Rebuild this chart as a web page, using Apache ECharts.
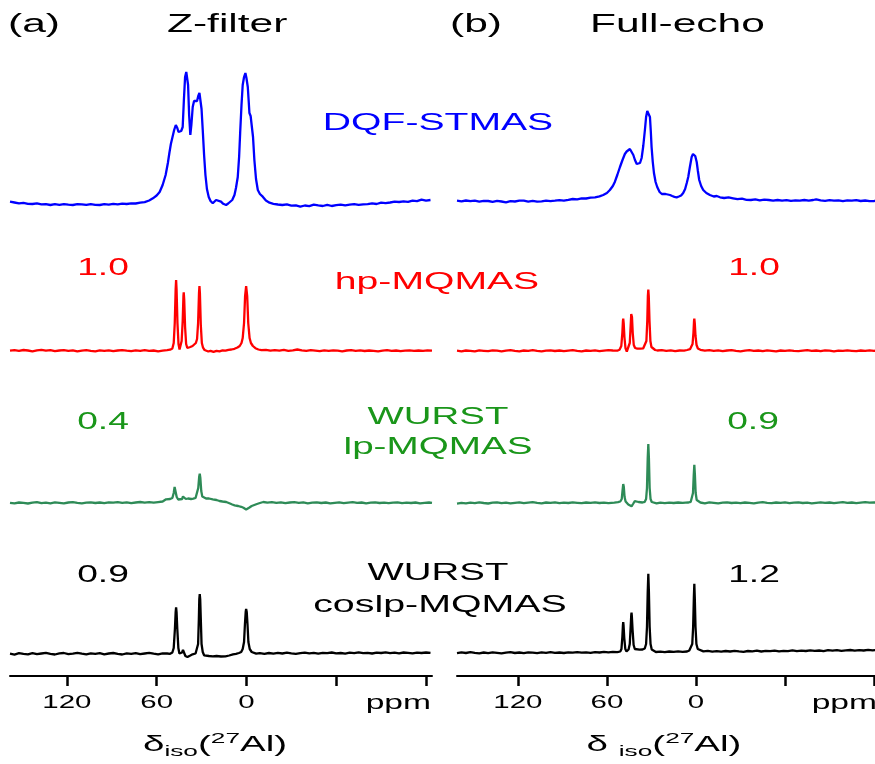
<!DOCTYPE html>
<html>
<head>
<meta charset="utf-8">
<script src="https://cdn.jsdelivr.net/npm/echarts@6/dist/echarts.min.js"></script>
<style>
html, body { margin: 0; padding: 0; background: #fff; }
#chart { width: 875px; height: 764px; }
</style>
</head>
<body>
<div id="chart"></div>
<script>
// spectra as [ppm, intensity (a.u.)]
// (a) Z-filter
var zDqf = [[158,3.3],[155,2.5],[152,1.7],[149,2.2],[146,1.2],[143,1.0],[140,1.6],[137,0.6],[134,0.9],[131,0.0],[128,0.8],[125,0.2],[122,0.9],[119,0.3],[116,0.0],[113,0.8],[110,0.7],[107,0.1],[104,0.9],[101,0.2],[98,0.0],[95,0.9],[92,0.4],[89,1.2],[86,0.7],[83,1.4],[80,1.0],[77,1.6],[74,1.5],[71,2.3],[68,2.9],[65,4.5],[62.5,6.7],[60,9.5],[58,13],[56,20],[54,30],[52.5,42],[51.5,52],[50.5,61],[49.4,68],[48.3,75],[47.2,80],[46.2,77],[45.4,73],[44.5,72],[43.6,74],[42.6,78],[41.8,105],[41.0,128],[40.2,133],[39.6,133],[39.0,120],[38.3,90],[37.5,70],[36.8,80],[35.9,98],[35.0,104],[34.0,105],[33.0,104],[32.2,109],[31.4,112],[30.7,110],[30.0,96],[29.2,75],[28.3,50],[27.4,30],[26.4,16],[25.2,8],[24,4],[22.5,1.7],[21.3,3.5],[20.3,5],[19,4.5],[17,3.3],[15.5,1.2],[13.6,0],[12.2,1.5],[10.9,2.7],[9.5,5],[8,10],[7,17],[5.8,28],[4.9,48],[4.2,72],[3.3,100],[2.5,120],[1.6,128],[0.7,132],[0,127],[-0.9,118],[-1.5,104],[-2,92],[-2.8,89],[-3.6,87],[-4.4,68],[-5.3,45],[-6.4,26],[-7.6,15],[-9,11],[-10.9,8.3],[-13,4.5],[-15.4,2.3],[-18,1.2],[-21,0.5],[-24,0],[-27,0.7],[-30,-0.6],[-33,-0.4],[-36,-1.7],[-39,-0.5],[-42,-1.1],[-45,0.3],[-48,-0.4],[-51,-1.0],[-54,0.2],[-57,-1.0],[-60,-0.2],[-63,0.4],[-66,-0.3],[-69,0.3],[-72,0.9],[-75,0.1],[-78,0.7],[-81,0.8],[-84,1.6],[-87,1.0],[-90,2.3],[-93,1.9],[-96,2.5],[-99,3.4],[-102,3],[-105,3.6],[-108,3.1],[-111,4.3],[-114,3.9],[-117,5.4],[-120,4.4],[-123,5]];
var zHp = [[158,0.4],[155,0.9],[152,0.2],[149,1.0],[146,0.5],[143,-0.3],[140,0.6],[137,1.1],[134,0.3],[131,0.8],[128,-0.2],[125,0.5],[122,0.9],[119,0.1],[116,0.7],[113,-0.4],[110,0.4],[107,0.8],[104,0.2],[101,-0.3],[98,0.6],[95,0.1],[92,0.7],[89,-0.2],[86,0.5],[83,0.9],[80,0.3],[77,-0.2],[74,0.6],[71,0.2],[68,0.8],[65,0.1],[62,0.5],[59,-0.3],[56,0.4],[53,0.9],[51,1.3],[49.5,2.5],[48.6,8],[47.9,28],[47.3,62],[47,71],[46.7,62],[46.1,28],[45.4,7],[44.7,1.5],[44,2.5],[43.3,10],[42.6,30],[42.1,55],[41.9,58.7],[41.6,52],[41.0,24],[40.3,7],[39.5,3],[38.5,3.5],[37.5,4],[36,5],[34.8,6.5],[33.8,8],[33.0,12],[32.3,28],[31.7,58],[31.4,65],[31.1,58],[30.5,26],[29.8,8],[29,3.3],[28,1],[27,-1],[25.5,-0.5],[24,0.2],[22,-0.8],[20,0.2],[18,-0.3],[16,0.6],[14,0.3],[12,1.2],[10,1.5],[8,2.2],[6,3.5],[4.5,5],[3.3,8],[2.5,13],[1.6,28],[0.9,55],[0.2,65],[-0.5,55],[-1.2,28],[-2.1,13],[-3,8],[-4.3,5],[-6,2.8],[-8,1.5],[-10,0.8],[-13,1.2],[-16,0.3],[-19,0.9],[-22,0.4],[-25,1.1],[-28,0.2],[-31,0.7],[-34,1.5],[-37,0.6],[-40,0.1],[-43,0.8],[-46,0.3],[-49,-0.2],[-52,0.6],[-55,0.1],[-58,0.7],[-61,0.3],[-64,-0.4],[-67,0.5],[-70,0.9],[-73,0.2],[-76,0.6],[-79,0],[-82,0.5],[-85,0.2],[-88,-0.3],[-91,0.4],[-94,0.8],[-97,0.1],[-100,0.5],[-103,-0.2],[-106,0.3],[-109,0.7],[-112,0.1],[-115,0.5],[-118,0.2],[-121,0.6],[-124,0.3]];
var zLp = [[158,0.2],[155,-0.4],[152,0.5],[149,0.1],[146,-0.5],[143,0.3],[140,0.8],[137,-0.2],[134,0.4],[131,-0.3],[128,0.6],[125,0.1],[122,-0.4],[119,0.5],[116,0.9],[113,0.2],[110,-0.3],[107,0.4],[104,0.7],[101,0],[98,0.5],[95,-0.2],[92,0.6],[89,0.3],[86,0.9],[83,0.2],[80,0.7],[77,-0.1],[74,0.5],[71,1.0],[68,0.4],[65,0.8],[62,0.3],[59,0.9],[56,1.5],[53.7,3.7],[51,4],[49.5,5],[48.6,10],[48.0,16],[47.7,17.7],[47.3,14],[46.6,6],[45.6,3.5],[44.5,3.3],[43,4],[42.4,6.5],[42,7.7],[41.5,6],[40.5,4],[39,4.5],[37,4],[35.5,4.3],[34,5],[33,7],[32.2,15],[31.6,26],[31.2,29.3],[30.8,25],[30.2,12],[29.5,6.5],[28.7,5.3],[27,4.5],[25,4.5],[22.5,3.7],[20,3],[18,2],[16,1.5],[13.5,1],[11,-0.5],[9.5,-1.5],[7.9,-2.3],[5.5,-3],[3.5,-3.8],[2,-4.8],[0.8,-6.2],[0.2,-6.5],[-0.6,-5.8],[-2,-4.5],[-3.5,-3],[-4.7,-2.3],[-7,-1],[-9,0],[-11.3,1],[-14,0.4],[-17,0.8],[-20,0.1],[-23,0.6],[-26,-0.2],[-29,0.5],[-32,0.9],[-35,0.2],[-38,0.6],[-41,-0.3],[-44,0.3],[-47,0.7],[-50,0],[-53,0.5],[-56,-0.4],[-59,0.2],[-62,0.6],[-65,-0.1],[-68,0.4],[-71,0.8],[-74,0.1],[-77,0.5],[-80,-0.3],[-83,0.3],[-86,0.7],[-89,0],[-92,0.4],[-95,-0.2],[-98,0.3],[-101,0.6],[-104,-0.1],[-107,0.4],[-110,0],[-113,0.5],[-116,-0.3],[-119,0.2],[-122,0.5],[-124,0.1]];
var zCos = [[158,0.3],[155,-0.6],[152,0.8],[149,0.1],[146,-0.4],[143,0.9],[140,-0.2],[137,0.5],[134,1.2],[131,0.2],[128,-0.5],[125,0.6],[122,1.0],[119,-0.1],[116,0.4],[113,1.1],[110,0.3],[107,-0.4],[104,0.7],[101,0.1],[98,0.9],[95,-0.3],[92,0.5],[89,1.0],[86,0.2],[83,-0.5],[80,0.6],[77,0.1],[74,0.8],[71,-0.2],[68,0.5],[65,1.1],[62,0.3],[59,-0.3],[56,0.6],[53,0.5],[51,0.2],[49.5,1.5],[48.6,6],[47.8,25],[47.3,42],[47,46.7],[46.7,42],[46.2,25],[45.5,6],[44.8,0.5],[44,-0.7],[43,1.5],[42.4,4],[42,5],[41.5,2],[40.8,-2],[40.3,-3.3],[39.4,-3],[38.5,-2.3],[37.5,-1.5],[36,-0.3],[35,0.3],[34,0.5],[33,2],[32.3,10],[31.8,35],[31.5,55],[31.2,60],[30.9,55],[30.5,35],[30,10],[29.2,2],[28.3,-1.3],[27,-1.5],[25,-2],[22.5,-2.3],[20,-2],[17,-2.5],[14,-2.3],[11.5,-1.5],[9,-0.3],[7,0.2],[5,1],[3.5,2],[2.5,5],[1.6,12],[1.0,30],[0.5,42],[0.2,45],[-0.2,42],[-0.7,30],[-1.3,12],[-2.2,5],[-3.5,2],[-4.7,1],[-6.5,0.3],[-9,0.9],[-12,0.2],[-15,1.0],[-18,0.4],[-21,1.2],[-24,0.5],[-27,1.3],[-30,0.6],[-33,0.1],[-36,0.9],[-39,1.4],[-42,0.7],[-45,1.1],[-48,0.3],[-51,1.2],[-54,0.8],[-57,1.5],[-60,0.6],[-63,1.0],[-66,0.4],[-69,1.3],[-72,0.9],[-75,1.6],[-78,0.8],[-81,1.2],[-84,0.5],[-87,1.4],[-90,1.0],[-93,1.7],[-96,0.9],[-99,1.3],[-102,0.7],[-105,1.5],[-108,1.1],[-111,0.6],[-114,1.4],[-117,1.0],[-120,1.5],[-123,1.1]];

// (b) Full-echo
var fDqf = [[161,1.3],[158,0.6],[155,1.5],[152,0.8],[149,1.3],[146,0.3],[143,1.2],[140,1.0],[137,0.2],[134,1.1],[131,0.5],[128,-0.3],[125,0.8],[122,0.5],[119,1.3],[116,1.3],[113,0.4],[110,1.1],[107,0.3],[104,0.7],[101,1.4],[98,0.9],[95,1.3],[92,1.8],[89,1.4],[86,2.1],[83,3],[80,2.6],[77,3.7],[74,3.5],[71,4.4],[68,4.7],[65,5.6],[62.5,7],[60,9],[58,12],[56,16],[54.6,20.3],[53,27],[51.2,35],[49.5,42],[47.9,48],[46.7,50.5],[45.6,52],[44.5,53],[43.4,52.7],[42.2,47],[41.1,42],[39.9,38],[38.9,37],[37.7,39],[36.6,44],[35.5,56],[34.4,72],[33.6,85],[32.8,91],[32.2,92],[31.5,89],[31,85],[30.4,70],[29.9,55],[29.1,40],[28.3,29],[27.2,20],[26.1,15],[24.5,10],[23,8],[22,7],[20.5,8],[19,7.5],[17.5,7],[16,6],[14.5,5.2],[13,4.7],[11.5,5.5],[10,6.5],[8.6,9],[7.3,13],[6.2,19],[5.2,25],[4.1,35],[2.9,45],[2,48],[1.3,48.7],[0.5,46],[-0.5,40],[-1.3,31],[-2.2,22],[-3.5,16],[-4.9,12],[-7,9],[-9.4,7],[-12,5.5],[-14,6],[-16.2,4.7],[-19,4],[-22,4.6],[-25,3.7],[-28,2.8],[-31,3.3],[-34,2.2],[-37,2],[-40,2.6],[-43,1.6],[-46,2.4],[-49,2],[-52,1.3],[-55,2],[-58,1.3],[-61,1.9],[-64,1.1],[-67,1.6],[-70,1.3],[-73,2],[-76,1.3],[-79,2],[-81,2.7],[-84,1.6],[-87,1.2],[-90,1.9],[-93,1.3],[-96,1.7],[-99,0.8],[-102,1.6],[-105,1.3],[-108,1.9],[-111,1.0],[-114,1.5],[-117,0.8],[-120,1],[-123,1.3]];
var fHp = [[161,0.3],[158,-0.3],[155,0.5],[152,0.1],[149,-0.4],[146,0.6],[143,0.2],[140,-0.2],[137,0.7],[134,0.3],[131,-0.3],[128,0.4],[125,0.8],[122,0.1],[119,-0.3],[116,0.5],[113,0.2],[110,0.8],[107,0.1],[104,-0.4],[101,0.3],[98,0.7],[95,0],[92,0.5],[89,-0.2],[86,0.4],[83,0.9],[80,0.2],[77,-0.3],[74,0.5],[71,0.1],[68,0.6],[65,-0.1],[62,0.4],[59,0.8],[56,0.5],[53,0.3],[51.5,1.2],[50.3,5],[49.6,18],[49.2,30],[49,32.3],[48.7,28],[48.2,14],[47.5,3],[46.6,-0.5],[46,-1],[45.3,1],[44.6,8],[44,25],[43.6,37],[43.4,39],[43.1,34],[42.6,18],[41.9,6],[41,3],[39.5,2.3],[37.5,2.3],[35.5,2.7],[34.2,4],[33.4,10],[32.8,30],[32.4,55],[32.1,61.3],[31.8,55],[31.3,30],[30.7,10],[30,4],[29,2],[27.5,1],[26,0.5],[23,0.8],[20,0.1],[17,0.6],[14,-0.2],[11,0.5],[8,0.3],[6,1],[4,1.8],[3,3],[2.3,7],[1.7,18],[1.3,30],[1.1,32.3],[0.8,28],[0.3,15],[-0.4,6],[-1.3,2.5],[-3,1.2],[-6,0.4],[-9,0.9],[-12,0.1],[-15,0.6],[-18,-0.2],[-21,0.5],[-24,0.9],[-27,0.2],[-30,-0.3],[-33,0.4],[-36,0.8],[-39,0.1],[-42,0.5],[-45,-0.2],[-48,0.6],[-51,0.2],[-54,-0.3],[-57,0.5],[-60,0.1],[-63,0.7],[-66,0.2],[-69,-0.2],[-72,0.4],[-75,0.8],[-78,0.1],[-81,0.5],[-84,-0.1],[-87,0.6],[-90,0.3],[-93,-0.3],[-96,0.4],[-99,0.1],[-102,0.6],[-105,0.2],[-108,-0.2],[-111,0.5],[-114,0.1],[-117,0.7],[-120,0.2],[-123,0.4]];
var fLp = [[161,-0.6],[158,0.1],[155,-0.3],[152,0.4],[149,-0.2],[146,0.6],[143,0],[140,-0.5],[137,0.3],[134,0.7],[131,-0.1],[128,0.4],[125,-0.4],[122,0.2],[119,0.6],[116,-0.2],[113,0.3],[110,0.8],[107,0.1],[104,-0.3],[101,0.5],[98,0.1],[95,0.7],[92,-0.1],[89,0.4],[86,0],[83,0.6],[80,0.2],[77,-0.2],[74,0.5],[71,0.1],[68,0.6],[65,0],[62,0.4],[59,-0.2],[55,0.3],[52.5,0.8],[51,1.5],[50,4],[49.5,12],[49,19],[48.6,16],[48.1,6],[47.4,1.5],[46.6,0.5],[45.6,-1.5],[44.5,-3],[43.4,-3.3],[42.4,-1],[41.2,1.8],[39.9,3.3],[38.7,1],[37.5,0.5],[36,0.5],[34.5,1.2],[33.6,4],[33,15],[32.5,45],[32.1,59],[31.7,45],[31.2,15],[30.6,4],[29.8,1],[28.5,0],[26.5,-0.4],[24,0.3],[21,-0.2],[18,0.4],[15,0],[12,0.5],[9,0.1],[7,0.4],[5,0.5],[3.5,1.2],[2.6,3],[2.0,10],[1.5,28],[1.1,38.3],[0.7,28],[0.2,10],[-0.5,3],[-1.5,1],[-3,0.5],[-6,-0.3],[-9,0.6],[-12,0.1],[-15,-0.4],[-18,0.3],[-21,0.7],[-24,0],[-27,0.4],[-30,-0.2],[-33,0.5],[-36,0.1],[-39,-0.3],[-42,0.4],[-45,0.8],[-48,0.2],[-51,-0.2],[-54,0.5],[-57,0.1],[-60,0.6],[-63,-0.1],[-66,0.3],[-69,0.7],[-72,0],[-75,0.4],[-78,-0.3],[-81,0.2],[-84,0.6],[-87,0.1],[-90,0.5],[-93,-0.2],[-96,0.3],[-99,0.8],[-102,0.2],[-105,0.5],[-108,-0.1],[-111,0.4],[-114,0.9],[-117,0.3],[-120,0.6],[-123,0.2]];
var fCos = [[161,-1.2],[158,-0.4],[155,-1.0],[152,-0.2],[149,-0.9],[146,-1.4],[143,-0.5],[140,-1.1],[137,-0.3],[134,-0.8],[131,-1.3],[128,-0.6],[125,-0.2],[122,-1.0],[119,-0.5],[116,-1.2],[113,-0.3],[110,-0.7],[107,-1.1],[104,-0.4],[101,-0.8],[98,-0.2],[95,-0.9],[92,-0.5],[89,-1.0],[86,-0.3],[83,-0.6],[80,-0.1],[77,-0.7],[74,-0.3],[71,-0.8],[68,-0.2],[65,-0.5],[62,0.1],[59,-0.4],[56,0.2],[53,-0.2],[52,0],[51,0.5],[50.2,3],[49.6,15],[49.2,27],[49,30],[48.8,27],[48.3,14],[47.6,3],[46.8,0.5],[46.2,1],[45.4,2.5],[44.6,8],[44,25],[43.6,37],[43.4,39.3],[43.2,36],[42.7,22],[42.0,7],[41.2,3],[39.9,2.3],[38,2.3],[36,2.5],[34.5,3.5],[33.6,8],[33,25],[32.5,60],[32.1,78.3],[31.7,60],[31.2,25],[30.6,8],[29.8,2.5],[28.5,0.5],[27,0],[24,0.4],[21,-0.2],[18,0.5],[15,0.1],[12,0.6],[9,0.2],[6,0.5],[4.5,1.5],[3.3,3],[2.5,8],[1.9,25],[1.4,55],[1.1,68.3],[0.8,55],[0.3,25],[-0.3,8],[-1.2,3],[-2.5,1.5],[-5,0.6],[-8,1.1],[-11,0.4],[-14,0.9],[-17,0.3],[-20,1.0],[-23,0.5],[-26,1.2],[-29,0.6],[-32,0.2],[-35,1.0],[-38,0.7],[-41,1.3],[-44,0.5],[-47,1.1],[-50,0.8],[-53,1.4],[-56,0.6],[-59,1.2],[-62,0.9],[-65,1.6],[-68,0.8],[-71,1.3],[-74,1.0],[-77,1.7],[-80,1.1],[-83,1.5],[-86,0.9],[-89,1.8],[-92,1.3],[-95,1.9],[-98,1.2],[-101,1.6],[-104,2.0],[-107,1.4],[-110,1.9],[-113,1.5],[-116,2.1],[-119,1.6],[-122,2.0]];

var ticksPpm = [120, 60, 0, -60, -120];
var labelsPpm = [120, 60, 0];
var seqNames = ['DQF-STMAS', 'hp-MQMAS', 'WURST', 'lp-MQMAS', 'WURST', 'coslp-MQMAS'];
var relZ = ['1.0', '0.4', '0.9'];
var relF = ['1.0', '0.9', '1.2'];

var panels = [
  { series: [zDqf, zHp, zLp, zCos], left: 10, width: 422, xMin: -124, xMax: 158,
    tops: [55, 251, 403, 554], heights: [160, 110, 110, 122], yMin: [-10, -10, -10, -22] },
  { series: [fDqf, fHp, fLp, fCos], left: 457, width: 423, xMin: -124, xMax: 161,
    tops: [52, 251, 403, 552], heights: [160, 110, 110, 124], yMin: [-10, -10, -10, -24] }
];
var lineColors = ['#0000ff', '#ff0000', '#2e8b57', '#000000'];
var textColors = ['#0000ff', '#ff0000', '#1a961a', '#000000'];
var yMax = [150, 100, 100, 100];

var FONT = 'Liberation Sans, Arial, Helvetica, sans-serif';

var grids = [], xAxes = [], yAxes = [], series = [];
panels.forEach(function (p, pi) {
  for (var r = 0; r < 4; r++) {
    var idx = pi * 4 + r;
    var bottom = r === 3;
    grids.push({ left: p.left, width: p.width, top: p.tops[r], height: p.heights[r], outerBoundsMode: 'none' });
    xAxes.push({
      type: 'value', gridIndex: idx, min: p.xMin, max: p.xMax, inverse: true,
      show: bottom,
      splitLine: { show: false },
      axisLine: { show: true, onZero: false, lineStyle: { color: '#000', width: 2 } },
      axisTick: { show: true, customValues: ticksPpm, length: 10, inside: false, lineStyle: { color: '#000', width: 2.5 } },
      axisLabel: { show: false }
    });
    yAxes.push({ type: 'value', gridIndex: idx, min: p.yMin[r], max: yMax[r], show: false, splitLine: { show: false } });
    series.push({
      type: 'line', xAxisIndex: idx, yAxisIndex: idx, data: p.series[r],
      symbol: 'none', lineStyle: { color: lineColors[r], width: 2.3 }, silent: true
    });
  }
});

function txt(x, y, s, color, size, align, sx) {
  return {
    type: 'text', x: x, y: y, scaleX: sx, silent: true,
    style: { text: s, fill: color, fontSize: size, fontFamily: FONT, align: align, verticalAlign: 'middle' }
  };
}

var graphics = [
  txt(8, 25, '(a)', '#000', 25, 'left', 1.7),
  txt(167, 25, 'Z-filter', '#000', 25, 'left', 1.7),
  txt(450, 25, '(b)', '#000', 25, 'left', 1.7),
  txt(590, 25, 'Full-echo', '#000', 25, 'left', 1.7),
  txt(438, 123, seqNames[0], textColors[0], 24, 'center', 1.63),
  txt(437, 282, seqNames[1], textColors[1], 24, 'center', 1.63),
  txt(438, 417, seqNames[2], textColors[2], 24, 'center', 1.6),
  txt(438, 447, seqNames[3], textColors[2], 24, 'center', 1.61),
  txt(438, 573, seqNames[4], textColors[3], 24, 'center', 1.6),
  txt(440, 605, seqNames[5], textColors[3], 24, 'center', 1.64),
  txt(103, 268, relZ[0], textColors[1], 24, 'center', 1.55),
  txt(754, 268, relF[0], textColors[1], 24, 'center', 1.55),
  txt(103, 422, relZ[1], textColors[2], 24, 'center', 1.55),
  txt(753, 422, relF[1], textColors[2], 24, 'center', 1.55),
  txt(103, 575, relZ[2], textColors[3], 24, 'center', 1.55),
  txt(754, 575, relF[2], textColors[3], 24, 'center', 1.55),
  txt(431, 703, 'ppm', '#000', 21, 'right', 1.6),
  txt(877, 703, 'ppm', '#000', 21, 'right', 1.6)
];

function axisTitle(x, y, lead) {
  return {
    type: 'text', x: x, y: y, scaleX: 1.75, silent: true,
    style: {
      text: '{g|' + lead + '}{s|iso}{g|(}{p|27}{g|Al)}',
      align: 'center', verticalAlign: 'middle',
      rich: {
        g: { fontSize: 22, fontFamily: FONT, fill: '#000', lineHeight: 28 },
        s: { fontSize: 15, fontFamily: FONT, fill: '#000', lineHeight: 14, verticalAlign: 'bottom' },
        p: { fontSize: 15, fontFamily: FONT, fill: '#000', lineHeight: 14, verticalAlign: 'top' }
      }
    }
  };
}
graphics.push(axisTitle(215, 745, '\u03b4'));
graphics.push(axisTitle(664, 745, '\u03b4 '));

var chart = echarts.init(document.getElementById('chart'), null, { renderer: 'canvas' });
chart.setOption({
  backgroundColor: '#fff',
  animation: false,
  grid: grids,
  xAxis: xAxes,
  yAxis: yAxes,
  series: series
});

// tick labels placed through the bottom axes' own scales (stretched like the original)
[3, 7].forEach(function (ai) {
  labelsPpm.forEach(function (v) {
    var px = chart.convertToPixel({ xAxisIndex: ai }, v);
    graphics.push(txt(px, 703, String(v), '#000', 19, 'center', 1.55));
  });
});
chart.setOption({ graphic: graphics });
</script>
</body>
</html>
